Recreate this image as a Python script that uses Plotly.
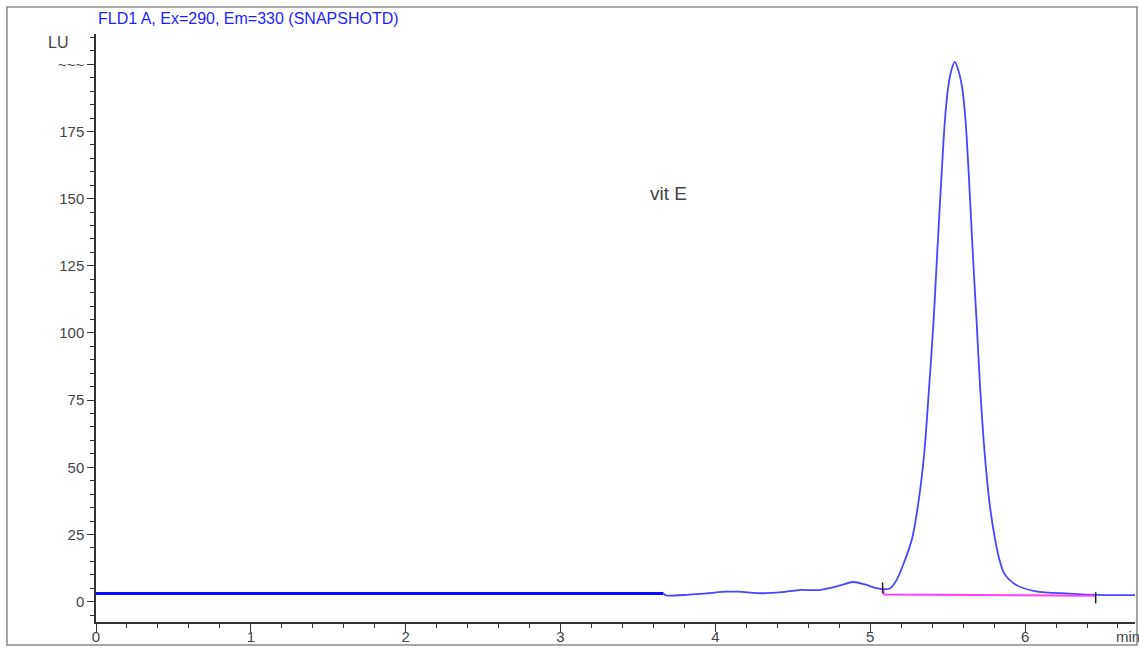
import plotly.graph_objects as go

# ---- data ----
flat_t = [0.0, 3.665]
flat_lu = [3.0, 3.0]

trace_t = [3.665, 3.68, 3.83, 3.95, 4.07, 4.15, 4.30, 4.43, 4.54, 4.67, 4.80, 4.89, 4.97,
           5.04, 5.09, 5.13, 5.17, 5.213, 5.271, 5.309, 5.348, 5.380, 5.409, 5.432, 5.456,
           5.482, 5.503, 5.525, 5.546, 5.568, 5.594, 5.616, 5.641, 5.663, 5.687, 5.710,
           5.740, 5.772, 5.805, 5.835, 5.865, 5.94, 6.07, 6.28, 6.46, 6.71]
trace_lu = [3.0, 2.3, 2.6, 3.1, 3.7, 3.7, 3.1, 3.5, 4.3, 4.3, 5.9, 7.3, 6.3,
            5.0, 4.6, 5.0, 8.0, 13.7, 23.6, 36.0, 54.6, 79.5, 104.3, 129.1, 154.0,
            178.8, 191.2, 198.0, 200.9, 198.0, 191.2, 178.8, 154.0, 129.1, 104.3, 79.5,
            54.6, 36.0, 23.6, 15.5, 10.5, 6.3, 3.8, 3.0, 2.5, 2.4]

baseline_t = [5.08, 5.09, 6.456]
baseline_lu = [4.7, 2.6, 2.2]

event_t = [5.08, 6.456]
event_lu = [5.1, 1.4]

y_tickvals = [0, 25, 50, 75, 100, 125, 150, 175, 200]
y_ticktext = ["0", "25", "50", "75", "100", "125", "150", "175", "~~~"]
x_tickvals = [0, 1, 2, 3, 4, 5, 6]
x_ticktext = ["0", "1", "2", "3", "4", "5", "6"]

title_text = "FLD1 A, Ex=290, Em=330 (SNAPSHOTD)"
peak_label = "vit E"
peak_label_pos = (3.70, 152)

FONT = "Liberation Sans, Arial, sans-serif"
AX = "#333333"
TXT = "#444444"

fig = go.Figure()
fig.add_trace(go.Scatter(x=flat_t, y=flat_lu, mode="lines",
                         line=dict(color="#0a0aff", width=3), hoverinfo="skip"))
fig.add_trace(go.Scatter(x=trace_t, y=trace_lu, mode="lines",
                         line=dict(color="#4646ff", width=1.8, shape="spline", smoothing=0.8),
                         hoverinfo="skip"))
fig.add_trace(go.Scatter(x=baseline_t, y=baseline_lu, mode="lines",
                         line=dict(color="#ff3cff", width=2), hoverinfo="skip"))
fig.add_trace(go.Scatter(x=event_t, y=event_lu, mode="markers",
                         marker=dict(symbol="line-ns", size=8,
                                     line=dict(color="#222222", width=1.5)),
                         hoverinfo="skip"))

fig.update_layout(
    width=1139, height=650, autosize=False,
    margin=dict(l=96, r=4, t=34, b=28, pad=0),
    paper_bgcolor="white", plot_bgcolor="white",
    showlegend=False,
    font=dict(family=FONT, size=15, color=TXT),
    xaxis=dict(range=[0, 6.71], showgrid=False, zeroline=False, automargin=False,
               showline=True, linecolor=AX, linewidth=1.5,
               ticks="outside", ticklen=8, tickwidth=1.3, tickcolor=AX,
               tickvals=x_tickvals, ticktext=x_ticktext,
               ticklabelstandoff=-8,
               tickfont=dict(family=FONT, size=15, color=TXT),
               minor=dict(dtick=0.2, ticks="outside", ticklen=4, tickwidth=1.3, tickcolor=AX),
               fixedrange=True),
    yaxis=dict(range=[-7.6, 211.3], showgrid=False, zeroline=False, automargin=False,
               showline=True, linecolor=AX, linewidth=1.5,
               ticks="outside", ticklen=7, tickwidth=1.3, tickcolor=AX,
               tickvals=y_tickvals, ticktext=y_ticktext,
               tickfont=dict(family=FONT, size=15, color=TXT),
               minor=dict(dtick=5, ticks="outside", ticklen=4, tickwidth=1.3, tickcolor=AX),
               fixedrange=True),
)

# outer frame
fig.add_shape(type="rect", xref="paper", yref="paper",
              x0=-0.0857, x1=1.0019, y0=-0.0391, y1=1.0459,
              line=dict(color="#8a8a8a", width=1.5), fillcolor="rgba(0,0,0,0)", layer="below")

fig.add_annotation(xref="paper", yref="paper", x=0.0, y=1.0459, xanchor="left", yanchor="top",
                   text=title_text, showarrow=False, yshift=-1,
                   font=dict(family=FONT, size=16, color="#1e1eff"))
fig.add_annotation(xref="paper", yref="paper", x=-0.025, y=0.985, xanchor="right", yanchor="middle",
                   text="LU", showarrow=False, font=dict(family=FONT, size=16, color=TXT))
fig.add_annotation(xref="paper", yref="paper", x=0.993, y=-0.0255, xanchor="center", yanchor="middle",
                   text="min", showarrow=False, font=dict(family=FONT, size=15, color=TXT))
fig.add_annotation(x=peak_label_pos[0], y=peak_label_pos[1], xref="x", yref="y",
                   text=peak_label, showarrow=False,
                   font=dict(family=FONT, size=19, color=TXT))

fig.write_html("out.html", config={"displayModeBar": False},
               post_script="document.body.style.margin='0';")
